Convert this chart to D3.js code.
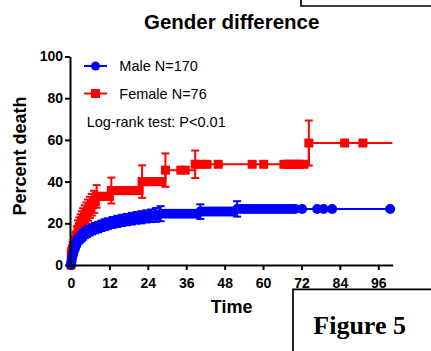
<!DOCTYPE html>
<html><head><meta charset="utf-8">
<script src="https://cdn.jsdelivr.net/npm/d3@7"></script>
<style>html,body{margin:0;padding:0;background:#fff;}svg{display:block;}</style>
</head><body><svg id="c" width="431" height="351"></svg>
<script>
// ---- data ----
const xTicks = [0, 12, 24, 36, 48, 60, 72, 84, 96];
const yTicks = [0, 20, 40, 60, 80, 100];

const maleEventTime = [0.1, 0.2, 0.3, 0.5, 0.7, 0.9, 1.1, 1.4, 1.7, 2.0, 2.4, 2.8, 3.3, 3.8, 4.4, 5.0, 5.8, 6.6, 7.5, 8.5, 9.5, 10.5, 11.5, 13, 14.5, 16, 17.5, 19, 20.5, 22, 23.5, 25, 26.5, 28, 40.4, 51.9];
const malePct       = [1.2, 2.4, 3.5, 4.7, 5.9, 7.1, 8.2, 9.4, 10.6, 11.8, 12.4, 13.0, 13.6, 14.5, 15.3, 15.9, 16.5, 17.1, 17.7, 18.2, 18.8, 19.3, 19.8, 20.4, 20.9, 21.4, 21.8, 22.2, 22.6, 22.9, 23.3, 23.6, 24.0, 24.6, 25.6, 26.9];
const maleErr       = [0.8, 1.1, 1.3, 1.5, 1.6, 1.7, 1.8, 1.9, 2.0, 2.1, 2.1, 2.2, 2.2, 2.3, 2.3, 2.4, 2.4, 2.4, 2.5, 2.5, 2.5, 2.6, 2.6, 2.6, 2.7, 2.7, 2.7, 2.8, 2.8, 2.9, 2.9, 3.0, 3.3, 3.6, 3.5, 3.7];
const maleCensor    = [1.2, 1.55, 1.85, 2.2, 2.6, 3.0, 3.5, 4.1, 4.7, 5.4, 6.2, 7.0, 8.0, 9.0, 10.0, 11.0, 12.0, 12.5, 13.5, 14.0, 15.0, 15.5, 16.5, 17.0, 18.0, 18.5, 19.5, 20.0, 21.0, 21.5, 22.5, 23.0, 24.0, 24.5, 25.5, 26.0, 27.0, 27.5, 29.5, 30.5, 31.5, 32.5, 33.5, 34.5, 35.5, 36.5, 37.5, 38.5, 39.5, 41.5, 42.5, 43.5, 44.5, 45.5, 46.5, 47.5, 48.5, 49.5, 50.5, 53, 54, 55, 56, 57, 58, 59, 60, 61, 62, 63, 64, 65, 66, 67, 68, 69, 70, 72.2, 76.9, 78.9, 81.6, 99.7];

const femaleEventTime = [0.1, 0.3, 0.5, 0.8, 1.1, 1.4, 1.8, 2.2, 2.6, 3.0, 3.4, 3.8, 4.3, 4.8, 5.3, 5.9, 6.5, 7.2, 8.0, 12.6, 22.2, 29.5, 38.8, 74.3];
const femalePct       = [5.3, 6.6, 7.9, 9.2, 10.5, 11.8, 14.5, 17.1, 18.4, 19.7, 21.1, 22.4, 23.7, 25.0, 26.3, 27.6, 28.9, 30.3, 32.9, 35.7, 40.0, 45.5, 48.3, 58.5];
const femaleErr       = [2.6, 2.8, 3.1, 3.3, 3.5, 3.7, 4.0, 4.3, 4.4, 4.6, 4.7, 4.8, 4.9, 5.0, 5.1, 5.1, 5.2, 5.3, 5.4, 6.2, 7.8, 8.0, 6.6, 10.8];
const femaleCensor    = [1.6, 2.0, 2.4, 2.8, 3.2, 3.6, 4.0, 4.5, 5.0, 5.6, 6.2, 6.8, 7.6, 8.5, 9, 10, 11, 12, 13.5, 14.5, 15.5, 16.5, 17.5, 18.5, 19.5, 20.5, 21.3, 23, 24, 25, 26, 27, 28, 34.3, 35.7, 40.5, 42.5, 46, 56.6, 60.2, 66.5, 67.5, 68.5, 69.5, 70.5, 71.5, 72.8, 85.5, 91.2];
const femaleLastTime  = 100.4;

const seriesNames = ["Male N=170", "Female N=76"];
const colors = ["#0000ff", "#ff0000"];

// ---- chart ----
const svg = d3.select("#c");
const x = d3.scaleLinear().domain([0, 100.5]).range([71, 392.7]);
const y = d3.scaleLinear().domain([0, 100]).range([265, 56.5]);
const FONT = "'Liberation Sans', Arial, sans-serif";

function buildPoints(times, pcts, errs, censors) {
  const pts = [{t: 0, p: 0, e: 0, ev: false}];
  times.forEach((t, i) => pts.push({t, p: pcts[i], e: errs[i], ev: true}));
  censors.forEach(t => pts.push({t, p: null, e: 0, ev: false}));
  pts.sort((a, b) => a.t - b.t);
  let last = 0;
  pts.forEach(d => { if (d.p === null) d.p = last; else last = d.p; });
  return pts;
}

const male = buildPoints(maleEventTime, malePct, maleErr, maleCensor);
const female = buildPoints(femaleEventTime, femalePct, femaleErr, femaleCensor);

const line = d3.line().x(d => x(d.t)).y(d => y(d.p)).curve(d3.curveStepAfter);

function drawSeries(pts, color, shape, endT) {
  const g = svg.append("g");
  const linePts = pts.slice();
  if (endT != null) linePts.push({t: endT, p: pts[pts.length - 1].p});
  g.append("path").attr("d", line(linePts)).attr("fill", "none")
    .attr("stroke", color).attr("stroke-width", 2);
  const eb = pts.filter(d => d.ev);
  g.selectAll("line.eb").data(eb).join("line")
    .attr("x1", d => x(d.t)).attr("x2", d => x(d.t))
    .attr("y1", d => y(d.p - d.e)).attr("y2", d => y(d.p + d.e))
    .attr("stroke", color).attr("stroke-width", 2);
  [1, -1].forEach(s => {
    g.selectAll(null).data(eb).join("line")
      .attr("x1", d => x(d.t) - 4).attr("x2", d => x(d.t) + 4)
      .attr("y1", d => y(d.p + s * d.e)).attr("y2", d => y(d.p + s * d.e))
      .attr("stroke", color).attr("stroke-width", 2);
  });
  if (shape === "circle") {
    g.selectAll("circle").data(pts).join("circle")
      .attr("cx", d => x(d.t)).attr("cy", d => y(d.p)).attr("r", 5).attr("fill", color);
  } else {
    g.selectAll("rect").data(pts).join("rect")
      .attr("x", d => x(d.t) - 4.5).attr("y", d => y(d.p) - 4.5)
      .attr("width", 9).attr("height", 9).attr("fill", color);
  }
}

drawSeries(female, colors[1], "square", femaleLastTime);
drawSeries(male, colors[0], "circle", null);

// axes
const xAxis = svg.append("g").attr("transform", "translate(0,265)")
  .call(d3.axisBottom(x).tickValues(xTicks).tickSize(5).tickSizeOuter(0).tickPadding(8));
const yAxis = svg.append("g").attr("transform", "translate(70,0)")
  .call(d3.axisLeft(y).tickValues(yTicks).tickSize(5).tickSizeOuter(0).tickPadding(2));
[xAxis, yAxis].forEach(a => {
  a.selectAll("path.domain").attr("stroke", "#000").attr("stroke-width", 2);
  a.selectAll(".tick line").attr("stroke", "#000").attr("stroke-width", 2);
  a.selectAll(".tick text").attr("fill", "#000")
    .style("font-family", FONT).style("font-weight", "bold").style("font-size", "14px");
});

// titles
svg.append("text").attr("x", 231.7).attr("y", 29).attr("text-anchor", "middle")
  .style("font-family", FONT).style("font-weight", "bold").style("font-size", "20.5px")
  .text("Gender difference");
svg.append("text").attr("x", 231.7).attr("y", 313).attr("text-anchor", "middle")
  .style("font-family", FONT).style("font-weight", "bold").style("font-size", "18px")
  .text("Time");
svg.append("text").attr("transform", "translate(26,156) rotate(-90)").attr("text-anchor", "middle")
  .style("font-family", FONT).style("font-weight", "bold").style("font-size", "18px")
  .text("Percent death");

// legend
const legY = [66, 93.5];
seriesNames.forEach((name, i) => {
  svg.append("line").attr("x1", 84).attr("x2", 107).attr("y1", legY[i]).attr("y2", legY[i])
    .attr("stroke", colors[i]).attr("stroke-width", 2);
  if (i === 0) svg.append("circle").attr("cx", 95.5).attr("cy", legY[i]).attr("r", 4.5).attr("fill", colors[i]);
  else svg.append("rect").attr("x", 91).attr("y", legY[i] - 4.5).attr("width", 9).attr("height", 9).attr("fill", colors[i]);
  svg.append("text").attr("x", 119.3).attr("y", legY[i] + 5)
    .style("font-family", FONT).style("font-size", "14.5px").attr("fill", "#000").text(name);
});
svg.append("text").attr("x", 86.7).attr("y", 127.3)
  .style("font-family", FONT).style("font-size", "14.5px").attr("fill", "#000")
  .text("Log-rank test: P<0.01");

// frames
svg.append("path").attr("d", "M301,0V6H431").attr("fill", "none").attr("stroke", "#000").attr("stroke-width", 1.7);
svg.append("path").attr("d", "M293,351V289.3H431").attr("fill", "none").attr("stroke", "#000").attr("stroke-width", 1.7);
svg.append("text").attr("x", 313.3).attr("y", 334)
  .style("font-family", "'Liberation Serif', 'Times New Roman', serif").style("font-weight", "bold").style("font-size", "26px")
  .attr("fill", "#000").text("Figure 5");
</script></body></html>
